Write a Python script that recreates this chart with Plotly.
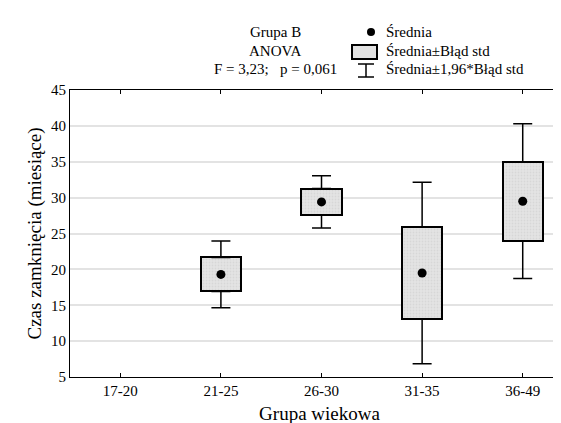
import plotly.graph_objects as go

categories = ["17-20", "21-25", "26-30", "31-35", "36-49"]
means = [None, 19.3, 29.4, 19.5, 29.5]
std_err = [None, 2.37, 1.86, 6.45, 5.5]
z_factor = 1.96
y_ticks = [5, 10, 15, 20, 25, 30, 35, 40, 45]

FONT = "Liberation Serif, Times New Roman, DejaVu Serif, serif"
W, H = 561, 423
L, R, T, B = 62, 0, 82, 54
pw, ph = W - L - R, H - T - B

xs = list(range(len(categories)))
idx = [i for i, m in enumerate(means) if m is not None]
mx = [xs[i] for i in idx]
mv = [means[i] for i in idx]
se = [std_err[i] for i in idx]

box_lo = [m - s for m, s in zip(mv, se)]
box_hi = [m + s for m, s in zip(mv, se)]
ext = [(z_factor - 1) * s for s in se]

fig = go.Figure()
# box: mean ± SE
fig.add_trace(go.Bar(
    x=mx, y=[2 * s for s in se], base=box_lo, width=0.4,
    marker=dict(color="#e2e2e2", line=dict(color="black", width=2),
                pattern=dict(shape=".", fgcolor="#c9c9c9", bgcolor="#e4e4e4", size=3, solidity=0.3)),
    showlegend=False, hoverinfo="skip"))
# upper whiskers
fig.add_trace(go.Scatter(
    x=mx, y=box_hi, mode="markers", marker=dict(size=1, color="rgba(0,0,0,0)"),
    error_y=dict(type="data", symmetric=False, array=ext, arrayminus=[0] * len(ext),
                 color="black", thickness=1.5, width=9.5),
    showlegend=False, hoverinfo="skip"))
# lower whiskers
fig.add_trace(go.Scatter(
    x=mx, y=box_lo, mode="markers", marker=dict(size=1, color="rgba(0,0,0,0)"),
    error_y=dict(type="data", symmetric=False, array=[0] * len(ext), arrayminus=ext,
                 color="black", thickness=1.5, width=9.5),
    showlegend=False, hoverinfo="skip"))
# means
fig.add_trace(go.Scatter(
    x=mx, y=mv, mode="markers", marker=dict(size=9, color="black"),
    showlegend=False, hoverinfo="skip"))

fig.update_xaxes(
    range=[-0.5, 4.46], tickvals=xs, ticktext=categories,
    showgrid=False, zeroline=False, showline=True, linecolor="black", linewidth=1,
    mirror="ticks", ticks="inside", ticklen=4, tickcolor="black",
    tickfont=dict(family=FONT, size=15, color="black"),
    title=dict(text="Grupa wiekowa", font=dict(family=FONT, size=19, color="black"), standoff=8))
fig.update_yaxes(
    range=[5, 45], tickvals=y_ticks,
    showgrid=True, gridcolor="#e3e3e3", gridwidth=1.5, zeroline=False,
    showline=True, linecolor="black", linewidth=1, mirror=False,
    ticks="", tickfont=dict(family=FONT, size=15, color="black"),
    title=dict(text="Czas zamknięcia (miesiące)", font=dict(family=FONT, size=19, color="black"), standoff=4))

def px(x):
    return (x - L) / pw

def py(y):
    return (H - B - y) / ph

shapes = [
    dict(type="circle", xref="paper", yref="paper", x0=px(359), x1=px(367), y0=py(20), y1=py(28),
         fillcolor="black", line=dict(color="black", width=0)),
    dict(type="rect", xref="paper", yref="paper", x0=px(344), x1=px(369), y0=py(37), y1=py(51),
         fillcolor="#e2e2e2", line=dict(color="black", width=2)),
    dict(type="line", xref="paper", yref="paper", x0=px(358), x1=px(358), y0=py(56), y1=py(69),
         line=dict(color="black", width=1.5)),
    dict(type="line", xref="paper", yref="paper", x0=px(350), x1=px(366), y0=py(56), y1=py(56),
         line=dict(color="black", width=1.5)),
    dict(type="line", xref="paper", yref="paper", x0=px(350), x1=px(366), y0=py(69), y1=py(69),
         line=dict(color="black", width=1.5)),
]

ann_font = dict(family=FONT, size=15, color="black")
annotations = [
    dict(text="Grupa B", x=px(267), y=py(24), xref="paper", yref="paper", showarrow=False,
         xanchor="center", yanchor="middle", font=ann_font),
    dict(text="ANOVA", x=px(267), y=py(43), xref="paper", yref="paper", showarrow=False,
         xanchor="center", yanchor="middle", font=ann_font),
    dict(text="F = 3,23;   p = 0,061", x=px(267), y=py(61), xref="paper", yref="paper", showarrow=False,
         xanchor="center", yanchor="middle", font=ann_font),
    dict(text="Średnia", x=px(376), y=py(24), xref="paper", yref="paper", showarrow=False,
         xanchor="left", yanchor="middle", font=ann_font),
    dict(text="Średnia±Błąd std", x=px(376), y=py(43), xref="paper", yref="paper", showarrow=False,
         xanchor="left", yanchor="middle", font=ann_font),
    dict(text="Średnia±1,96*Błąd std", x=px(376), y=py(61), xref="paper", yref="paper", showarrow=False,
         xanchor="left", yanchor="middle", font=ann_font),
]

fig.update_layout(
    width=W, height=H, margin=dict(l=L, r=R, t=T, b=B),
    paper_bgcolor="white", plot_bgcolor="white",
    shapes=shapes, annotations=annotations, showlegend=False, bargap=0,
    font=dict(family=FONT, color="black"))

fig.write_html("out.html")
